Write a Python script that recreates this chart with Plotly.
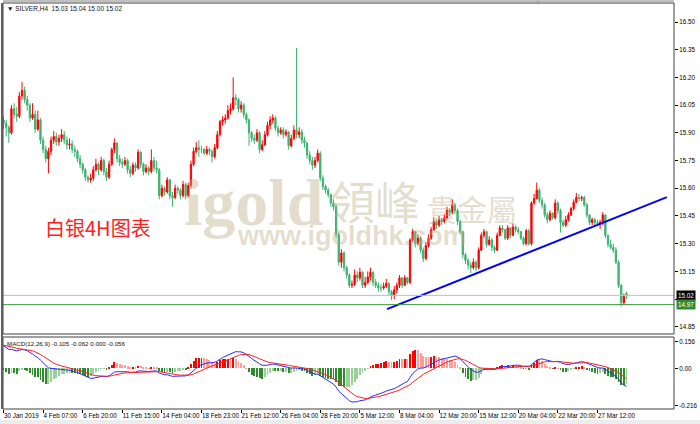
import plotly.graph_objects as go

# ---------------- data ----------------
TICK_BARS = [0, 15, 30, 45, 60, 75, 90, 105, 120, 135, 150, 165, 180, 195, 210, 225]
TICK_LABELS = ["30 Jan 2019", "4 Feb 07:00", "6 Feb 20:00", "11 Feb 15:00", "14 Feb 04:00",
               "18 Feb 23:00", "21 Feb 12:00", "26 Feb 04:00", "28 Feb 20:00", "5 Mar 12:00",
               "8 Mar 04:00", "12 Mar 20:00", "15 Mar 12:00", "20 Mar 04:00", "22 Mar 20:00",
               "27 Mar 12:00"]

CLOSE = [
    15.95, 15.93, 15.90, 16.03, 16.00, 15.99, 16.10, 16.13, 16.08, 16.05,
    15.98, 16.00, 15.92, 15.97, 15.86, 15.81, 15.76, 15.80, 15.86, 15.88,
    15.85, 15.87, 15.89, 15.86, 15.835, 15.84, 15.81, 15.80, 15.76, 15.73,
    15.70, 15.66, 15.645, 15.655, 15.70, 15.73, 15.70, 15.75, 15.69, 15.66,
    15.73, 15.81, 15.845, 15.76, 15.74, 15.73, 15.75, 15.70, 15.68, 15.725,
    15.71, 15.795, 15.73, 15.69, 15.71, 15.69, 15.75, 15.71, 15.70, 15.56,
    15.60, 15.58, 15.645, 15.56, 15.55, 15.60, 15.59, 15.56, 15.62, 15.56,
    15.615, 15.73, 15.80, 15.82, 15.81, 15.81, 15.79, 15.81, 15.80, 15.77,
    15.82, 15.89, 15.96, 15.97, 15.98, 16.02, 16.03, 16.09, 16.08, 16.03,
    16.05, 16.00, 15.97, 15.90, 15.87, 15.86, 15.90, 15.81, 15.835, 15.89,
    15.94, 15.97, 15.98, 15.925, 15.90, 15.915, 15.89, 15.905, 15.83, 15.87,
    15.915, 15.89, 15.905, 15.86, 15.845, 15.78, 15.75, 15.725, 15.75, 15.79,
    15.655, 15.61, 15.59, 15.565, 15.52, 15.50, 15.35, 15.20, 15.25, 15.17,
    15.13, 15.075, 15.08, 15.13, 15.115, 15.145, 15.075, 15.09, 15.12, 15.145,
    15.09, 15.075, 15.06, 15.06, 15.07, 15.085, 15.04, 15.02, 15.05, 15.075,
    15.115, 15.075, 15.115, 15.09, 15.32, 15.365, 15.30, 15.33, 15.265, 15.22,
    15.29, 15.33, 15.375, 15.42, 15.40, 15.43, 15.42, 15.44, 15.48, 15.47,
    15.51, 15.48, 15.42, 15.365, 15.24, 15.21, 15.185, 15.17, 15.20, 15.17,
    15.265, 15.345, 15.365, 15.295, 15.32, 15.28, 15.265, 15.345, 15.385, 15.375,
    15.33, 15.385, 15.345, 15.39, 15.375, 15.365, 15.33, 15.30, 15.37, 15.30,
    15.52, 15.545, 15.59, 15.535, 15.51, 15.455, 15.43, 15.465, 15.44, 15.52,
    15.48, 15.415, 15.40, 15.43, 15.455, 15.49, 15.525, 15.55, 15.545, 15.55,
    15.51, 15.455, 15.415, 15.43, 15.415, 15.41, 15.415, 15.455, 15.345, 15.295,
    15.28, 15.265, 15.20, 15.075, 14.98, 15.015, 15.02]

OPEN = [
    15.97, 15.95, 15.93, 15.90, 16.03, 16.00, 15.99, 16.10, 16.13, 16.08,
    16.05, 15.98, 16.00, 15.92, 15.97, 15.86, 15.81, 15.76, 15.80, 15.86,
    15.88, 15.85, 15.87, 15.89, 15.86, 15.835, 15.84, 15.81, 15.80, 15.76,
    15.73, 15.70, 15.66, 15.645, 15.655, 15.70, 15.73, 15.70, 15.75, 15.69,
    15.66, 15.73, 15.81, 15.845, 15.76, 15.74, 15.73, 15.75, 15.70, 15.68,
    15.725, 15.71, 15.795, 15.73, 15.69, 15.71, 15.69, 15.75, 15.71, 15.70,
    15.56, 15.60, 15.58, 15.645, 15.56, 15.55, 15.60, 15.59, 15.56, 15.62,
    15.56, 15.615, 15.73, 15.80, 15.82, 15.81, 15.81, 15.79, 15.81, 15.80,
    15.77, 15.82, 15.89, 15.96, 15.97, 15.98, 16.02, 16.03, 16.09, 16.08,
    16.03, 16.05, 16.00, 15.97, 15.90, 15.87, 15.86, 15.90, 15.81, 15.835,
    15.89, 15.94, 15.97, 15.98, 15.925, 15.90, 15.915, 15.89, 15.905, 15.83,
    15.87, 15.915, 15.89, 15.905, 15.86, 15.845, 15.78, 15.75, 15.725, 15.75,
    15.79, 15.655, 15.61, 15.59, 15.565, 15.52, 15.50, 15.35, 15.20, 15.25,
    15.17, 15.13, 15.075, 15.08, 15.13, 15.115, 15.145, 15.075, 15.09, 15.12,
    15.145, 15.09, 15.075, 15.06, 15.06, 15.07, 15.085, 15.04, 15.02, 15.05,
    15.075, 15.115, 15.075, 15.115, 15.09, 15.32, 15.365, 15.30, 15.33, 15.265,
    15.22, 15.29, 15.33, 15.375, 15.42, 15.40, 15.43, 15.42, 15.44, 15.48,
    15.47, 15.51, 15.48, 15.42, 15.365, 15.24, 15.21, 15.185, 15.17, 15.20,
    15.17, 15.265, 15.345, 15.365, 15.295, 15.32, 15.28, 15.265, 15.345, 15.385,
    15.375, 15.33, 15.385, 15.345, 15.39, 15.375, 15.365, 15.33, 15.30, 15.37,
    15.30, 15.52, 15.545, 15.59, 15.535, 15.51, 15.455, 15.43, 15.465, 15.44,
    15.52, 15.48, 15.415, 15.40, 15.43, 15.455, 15.49, 15.525, 15.55, 15.545,
    15.55, 15.51, 15.455, 15.415, 15.43, 15.415, 15.41, 15.415, 15.455, 15.345,
    15.295, 15.28, 15.265, 15.20, 15.075, 14.98, 15.03]

HIGH = [
    15.99, 15.97, 15.94, 16.05, 16.06, 16.04, 16.12, 16.175, 16.15, 16.10,
    16.06, 16.06, 16.02, 16.02, 15.98, 15.88, 15.83, 15.82, 15.88, 15.91,
    15.90, 15.89, 15.92, 15.91, 15.88, 15.87, 15.86, 15.83, 15.81, 15.78,
    15.74, 15.71, 15.67, 15.68, 15.72, 15.76, 15.74, 15.77, 15.76, 15.71,
    15.75, 15.82, 15.87, 15.85, 15.78, 15.76, 15.77, 15.76, 15.72, 15.74,
    15.74, 15.81, 15.80, 15.74, 15.73, 15.72, 15.81, 15.77, 15.75, 15.71,
    15.62, 15.61, 15.66, 15.65, 15.58, 15.62, 15.61, 15.60, 15.64, 15.63,
    15.63, 15.75, 15.82, 15.85, 15.86, 15.83, 15.82, 15.83, 15.82, 15.81,
    15.84, 15.91, 15.97, 15.99, 16.00, 16.05, 16.06, 16.20, 16.11, 16.09,
    16.07, 16.06, 16.01, 15.98, 15.91, 15.89, 15.92, 15.91, 15.86, 15.91,
    15.96, 15.99, 16.00, 15.99, 15.94, 15.93, 15.93, 15.92, 15.91, 15.89,
    15.94, 16.36, 15.93, 15.92, 15.88, 15.85, 15.80, 15.77, 15.77, 15.81,
    15.80, 15.67, 15.62, 15.60, 15.57, 15.54, 15.51, 15.36, 15.27, 15.26,
    15.18, 15.14, 15.10, 15.16, 15.15, 15.17, 15.15, 15.12, 15.15, 15.17,
    15.15, 15.11, 15.09, 15.08, 15.09, 15.11, 15.09, 15.05, 15.07, 15.09,
    15.13, 15.12, 15.13, 15.12, 15.33, 15.38, 15.37, 15.35, 15.34, 15.28,
    15.31, 15.35, 15.39, 15.44, 15.43, 15.45, 15.44, 15.46, 15.50, 15.49,
    15.54, 15.52, 15.49, 15.43, 15.37, 15.25, 15.22, 15.20, 15.22, 15.21,
    15.28, 15.36, 15.38, 15.37, 15.34, 15.33, 15.29, 15.36, 15.40, 15.40,
    15.38, 15.40, 15.39, 15.41, 15.40, 15.39, 15.37, 15.34, 15.38, 15.38,
    15.53, 15.57, 15.63, 15.60, 15.55, 15.52, 15.47, 15.48, 15.47, 15.54,
    15.53, 15.49, 15.43, 15.45, 15.47, 15.50, 15.54, 15.575, 15.57, 15.56,
    15.56, 15.52, 15.46, 15.44, 15.44, 15.43, 15.43, 15.47, 15.46, 15.35,
    15.32, 15.30, 15.28, 15.21, 15.08, 15.03, 15.04]

LOW = [
    15.92, 15.88, 15.845, 15.89, 15.98, 15.96, 15.98, 16.08, 16.06, 16.02,
    15.96, 15.97, 15.90, 15.91, 15.84, 15.79, 15.74, 15.68, 15.78, 15.84,
    15.83, 15.83, 15.85, 15.84, 15.81, 15.81, 15.79, 15.77, 15.74, 15.71,
    15.68, 15.64, 15.63, 15.63, 15.64, 15.69, 15.67, 15.69, 15.67, 15.64,
    15.65, 15.72, 15.79, 15.74, 15.72, 15.71, 15.72, 15.68, 15.66, 15.67,
    15.69, 15.70, 15.71, 15.67, 15.68, 15.67, 15.68, 15.69, 15.68, 15.54,
    15.55, 15.56, 15.57, 15.54, 15.50, 15.54, 15.57, 15.54, 15.55, 15.54,
    15.55, 15.60, 15.72, 15.79, 15.77, 15.79, 15.78, 15.78, 15.78, 15.74,
    15.76, 15.81, 15.88, 15.94, 15.95, 15.97, 16.00, 16.02, 16.05, 16.01,
    16.01, 15.98, 15.95, 15.83, 15.85, 15.84, 15.85, 15.79, 15.80, 15.83,
    15.88, 15.92, 15.95, 15.91, 15.88, 15.89, 15.87, 15.88, 15.81, 15.82,
    15.86, 15.87, 15.87, 15.84, 15.82, 15.76, 15.73, 15.70, 15.71, 15.74,
    15.64, 15.59, 15.57, 15.55, 15.50, 15.48, 15.33, 15.18, 15.17, 15.15,
    15.11, 15.06, 15.06, 15.07, 15.09, 15.10, 15.06, 15.06, 15.08, 15.10,
    15.07, 15.06, 15.04, 15.04, 15.05, 15.06, 15.02, 14.995, 15.00, 15.03,
    15.06, 15.06, 15.07, 15.08, 15.08, 15.31, 15.28, 15.29, 15.25, 15.20,
    15.21, 15.28, 15.32, 15.37, 15.38, 15.39, 15.40, 15.41, 15.43, 15.45,
    15.46, 15.46, 15.40, 15.35, 15.22, 15.19, 15.16, 15.14, 15.16, 15.15,
    15.16, 15.26, 15.33, 15.28, 15.29, 15.26, 15.25, 15.26, 15.34, 15.36,
    15.32, 15.32, 15.33, 15.34, 15.36, 15.35, 15.32, 15.29, 15.29, 15.29,
    15.29, 15.51, 15.54, 15.52, 15.49, 15.44, 15.41, 15.42, 15.43, 15.43,
    15.46, 15.36, 15.39, 15.39, 15.42, 15.45, 15.48, 15.52, 15.53, 15.53,
    15.50, 15.44, 15.40, 15.40, 15.40, 15.40, 15.38, 15.40, 15.33, 15.28,
    15.27, 15.25, 15.19, 15.06, 14.96, 14.97, 15.00]

# MACD(12,26,9) state carried in from before the first visible bar
EMA_FAST_START = 15.93
EMA_SLOW_START = 15.79
SIGNAL_START = 0.135

# trend line drawn on the chart (bar index, price)
TREND_X = [145.3, 251.3]
TREND_Y = [14.946, 15.552]

BID_PRICE = 15.02
LINE_PRICE = 14.97
PRICE_TICKS = [14.85, 15.00, 15.15, 15.30, 15.45, 15.60, 15.75, 15.90, 16.05, 16.20, 16.35, 16.50]
MACD_TICKS = [0.156, 0.0, -0.216]
MACD_TICK_TEXT = ["0.156", "0.00", "-0.216"]

# ---------------- derived indicator ----------------
bars = list(range(len(CLOSE)))
a_f, a_s, a_sig = 2 / 13, 2 / 27, 2 / 10
ef, es, sig = EMA_FAST_START, EMA_SLOW_START, SIGNAL_START
dif, dea = [], []
for c in CLOSE:
    ef += a_f * (c - ef)
    es += a_s * (c - es)
    d = ef - es
    sig += a_sig * (d - sig)
    dif.append(d)
    dea.append(sig)
hist = [2 * (d - s) for d, s in zip(dif, dea)]   # MACD bar = 2 * (DIF - DEA)
hcol = []
for k, h in enumerate(hist):
    prev = hist[k - 1] if k else h
    if h >= 0:
        hcol.append("#ff0000" if h >= prev else "#ff9c9c")
    else:
        hcol.append("#2e8b2e" if h <= prev else "#98d098")

# ---------------- figure ----------------
FONT = "Liberation Sans"
fig = go.Figure()

fig.add_trace(go.Candlestick(
    x=bars, open=OPEN, high=HIGH, low=LOW, close=CLOSE,
    increasing=dict(line=dict(color="#ff0000", width=1), fillcolor="#ff0000"),
    decreasing=dict(line=dict(color="#3cb371", width=1), fillcolor="#3cb371"),
    whiskerwidth=0, xaxis="x", yaxis="y", showlegend=False, hoverinfo="skip"))

fig.add_trace(go.Scatter(x=TREND_X, y=TREND_Y, mode="lines",
                         line=dict(color="#0000ff", width=2), xaxis="x", yaxis="y",
                         showlegend=False, hoverinfo="skip"))

fig.add_trace(go.Bar(x=bars, y=hist, marker=dict(color=hcol, line=dict(width=0)),
                     width=0.33, xaxis="x", yaxis="y2", showlegend=False, hoverinfo="skip"))
fig.add_trace(go.Scatter(x=bars, y=dif, mode="lines", line=dict(color="#2a2aff", width=1),
                         xaxis="x", yaxis="y2", showlegend=False, hoverinfo="skip"))
fig.add_trace(go.Scatter(x=bars, y=dea, mode="lines", line=dict(color="#ff2020", width=1),
                         xaxis="x", yaxis="y2", showlegend=False, hoverinfo="skip"))

H_TOP, H_BOT = 3, 409
PH = H_BOT - H_TOP


def py(pix):
    return (H_BOT - pix) / PH


def px(pix):
    return (pix - 3) / 671


MAIN_DOM = [py(334), 1]
MACD_DOM = [0, py(337)]

fig.update_layout(
    width=700, height=424,
    margin=dict(l=3, r=26, t=3, b=15, autoexpand=False),
    paper_bgcolor="white", plot_bgcolor="white",
    bargap=0,
    font=dict(family=FONT, size=6, color="black"),
    xaxis=dict(range=[-0.2, 254], anchor="y2", domain=[0, 1], automargin=False,
               tickvals=TICK_BARS, ticktext=TICK_LABELS, ticks="outside", ticklen=3,
               tickcolor="black", ticklabelposition="outside right", tickangle=0,
               tickfont=dict(family=FONT, size=6.3, color="black"),
               showgrid=False, zeroline=False, showline=False,
               rangeslider=dict(visible=False), fixedrange=True),
    yaxis=dict(domain=MAIN_DOM, range=[14.811, 16.603], side="right", anchor="x",
               automargin=False,
               tickvals=PRICE_TICKS, ticktext=[f"{v:.2f}" for v in PRICE_TICKS],
               ticks="outside", ticklen=3, tickcolor="black",
               tickfont=dict(family=FONT, size=6.3, color="black"),
               showgrid=False, zeroline=False, showline=False),
    yaxis2=dict(domain=MACD_DOM, range=[-0.2366, 0.182], side="right", anchor="x",
                automargin=False,
                tickvals=MACD_TICKS, ticktext=MACD_TICK_TEXT,
                ticks="outside", ticklen=3, tickcolor="black",
                tickfont=dict(family=FONT, size=6.3, color="black"),
                showgrid=False, zeroline=False, showline=False),
)

shapes = [
    dict(type="line", xref="paper", yref="y", x0=0, x1=1, y0=BID_PRICE, y1=BID_PRICE,
         line=dict(color="#c0c0c0", width=1)),
    dict(type="line", xref="paper", yref="y", x0=0, x1=1, y0=LINE_PRICE, y1=LINE_PRICE,
         line=dict(color="#3a9a3a", width=1)),
    dict(type="rect", xref="paper", yref="paper", x0=0, x1=1, y0=MAIN_DOM[0], y1=1,
         line=dict(color="#404040", width=1)),
    dict(type="rect", xref="paper", yref="paper", x0=0, x1=1, y0=0, y1=MACD_DOM[1],
         line=dict(color="#404040", width=1)),
    dict(type="line", xref="paper", yref="paper", x0=0, x1=1, y0=py(1), y1=py(1),
         line=dict(color="#808080", width=1)),
    dict(type="line", xref="paper", yref="paper", x0=px(2), x1=px(2), y0=0, y1=1,
         line=dict(color="#606060", width=2)),
    dict(type="rect", xref="paper", yref="paper", x0=-0.01, x1=1.05, y0=py(420), y1=py(426),
         fillcolor="#ececec", line=dict(width=0), layer="below"),
]
fig.update_layout(shapes=shapes)

WM = "rgba(190,175,135,0.42)"
ann = [
    dict(text="▼ SILVER,H4  15.03 15.04 15.00 15.02", x=px(5), y=py(8), xanchor="left",
         yanchor="middle", font=dict(family=FONT, size=6.5, color="#111111")),
    dict(text="MACD(12,26,9) -0.105 -0.062 0.000 -0.056", x=px(5), y=py(343), xanchor="left",
         yanchor="middle", font=dict(family=FONT, size=6.2, color="#111111")),
    dict(text="▼", x=px(538), y=py(3), xanchor="center", yanchor="middle",
         font=dict(family=FONT, size=6, color="#999999")),
    dict(text="igold", x=px(253), y=py(203), xanchor="center", yanchor="middle",
         font=dict(family="Liberation Serif", size=66, color=WM, weight="bold")),
    dict(text="領峰", x=px(375), y=py(200), xanchor="center", yanchor="middle",
         font=dict(family="Noto Sans CJK TC", size=45, color=WM)),
    dict(text="貴金屬", x=px(472), y=py(208), xanchor="center", yanchor="middle",
         font=dict(family="Noto Sans CJK TC", size=30, color=WM)),
    dict(text="www.igoldhk.com", x=px(352), y=py(236), xanchor="center", yanchor="middle",
         font=dict(family="Liberation Sans", size=27, color=WM, weight="bold")),
    dict(text="白银4H图表", x=px(98), y=py(227), xanchor="center", yanchor="middle",
         font=dict(family="Noto Sans CJK SC", size=20, color="#ff2020")),
    dict(text="15.02", x=1, y=BID_PRICE, yref="y", xanchor="left", yanchor="middle", xshift=2,
         bgcolor="#000000", borderpad=1, font=dict(family=FONT, size=6.3, color="white")),
    dict(text="14.97", x=1, y=LINE_PRICE, yref="y", xanchor="left", yanchor="middle", xshift=2,
         bgcolor="#2e8b2e", borderpad=1, font=dict(family=FONT, size=6.3, color="white")),
]
for a in ann:
    a.setdefault("xref", "paper")
    a.setdefault("yref", "paper")
    a["showarrow"] = False
fig.update_layout(annotations=ann)

fig.write_html("out.html", config={"displayModeBar": False},
               post_script="document.body.style.margin='0';document.body.style.padding='0';")
